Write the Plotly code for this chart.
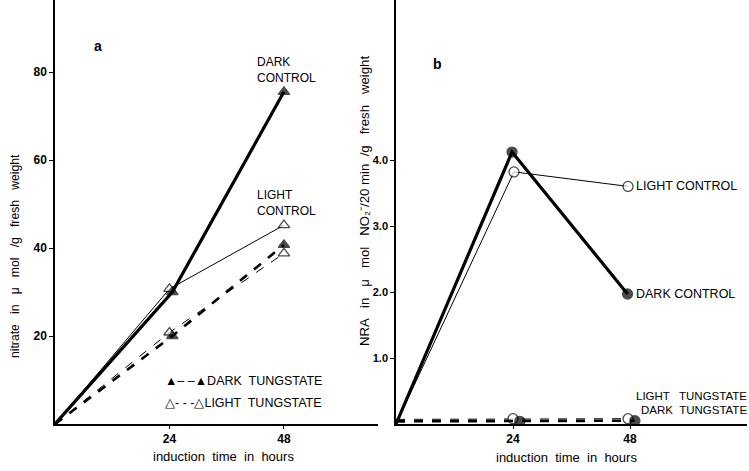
import plotly.graph_objects as go

# ---- data ----
# panel a: nitrate (µmol / g fresh weight)
a_dark_control_x = [0, 24.6, 48]
a_dark_control = [0, 30, 75.5]
a_light_control_x = [0, 24, 48]
a_light_control = [0, 30.7, 45.2]
a_dark_tung_x = [0, 24.6, 48]
a_dark_tung = [0, 20, 40.7]
a_light_tung_x = [0, 24, 48]
a_light_tung = [0, 20.8, 38.8]
# panel b: NRA
b_dark_control_x = [0, 23.8, 47.5]
b_dark_control = [0, 4.12, 1.97]
b_light_control_x = [0, 24.2, 47.6]
b_light_control = [0, 3.82, 3.6]
b_light_tung_x = [0, 24, 47.6]
b_light_tung = [0.07, 0.08, 0.08]
b_dark_tung_x = [0, 25.4, 49]
b_dark_tung = [0.04, 0.04, 0.05]

x_ticks = [24, 48]
ya_ticks = [20, 40, 60, 80]
yb_ticks = [1.0, 2.0, 3.0, 4.0]

FONT = "Liberation Sans, Arial, sans-serif"
W, H = 749, 471

fig = go.Figure()

def line(x, y, width, dash, symbol, filled, xa, ya, msize=10):
    fig.add_trace(go.Scatter(
        x=x, y=y, mode="lines+markers", xaxis=xa, yaxis=ya,
        line=dict(color="black", width=width, dash=dash),
        marker=dict(symbol=symbol, size=[0] + [msize] * (len(x) - 1),
                    color="black" if filled else "white",
                    line=dict(color="black", width=1.3)),
        showlegend=False, hoverinfo="skip"))

# panel a
line(a_light_tung_x, a_light_tung, 1, "dash", "triangle-up", False, "x", "y")
line(a_dark_tung_x, a_dark_tung, 2.6, "dash", "triangle-up", True, "x", "y")
line(a_light_control_x, a_light_control, 1, "solid", "triangle-up", False, "x", "y")
line(a_dark_control_x, a_dark_control, 3.2, "solid", "triangle-up", True, "x", "y")
# panel b
line(b_light_tung_x, b_light_tung, 1, "dash", "circle", False, "x2", "y2")
line(b_dark_tung_x, b_dark_tung, 2.6, "dash", "circle", True, "x2", "y2")
line(b_light_control_x, b_light_control, 1, "solid", "circle", False, "x2", "y2")
line(b_dark_control_x, b_dark_control, 3.2, "solid", "circle", True, "x2", "y2")

# geometry
ax0, ax1 = 55, 378
bx0, bx1 = 396, 747
y0px = 424
xa_range = [0, (ax1 - ax0) / 4.77]
xb_range = [0, (bx1 - bx0) / 4.875]
ya_range = [0, y0px / 4.4]
yb_range = [0, y0px / 66.0]

tickf = dict(family=FONT, size=12, color="black", weight="bold")
common_x = dict(showline=True, linecolor="black", linewidth=1.5, ticks="outside", ticklen=3,
                tickcolor="black", tickvals=x_ticks, tickfont=tickf,
                showgrid=False, zeroline=False, automargin=False)
fig.update_layout(
    width=W, height=H, margin=dict(l=0, r=0, t=0, b=0),
    paper_bgcolor="white", plot_bgcolor="white",
    xaxis=dict(domain=[ax0 / W, ax1 / W], range=xa_range, anchor="y", **common_x),
    xaxis2=dict(domain=[bx0 / W, bx1 / W], range=xb_range, anchor="y2", **common_x),
    yaxis=dict(domain=[(H - y0px) / H, 1], range=ya_range, anchor="x", showline=True, linecolor="black",
               linewidth=1.5, ticks="outside", ticklen=4, tickcolor="black", tickvals=ya_ticks,
               tickfont=tickf, showgrid=False, zeroline=False, automargin=False),
    yaxis2=dict(domain=[(H - y0px) / H, 1], range=yb_range, anchor="x2", showline=True, linecolor="black",
                linewidth=1.5, ticks="outside", ticklen=4, tickcolor="black", tickvals=yb_ticks,
                tickformat=".1f", tickfont=dict(family=FONT, size=11, color="black", weight="bold"),
                showgrid=False, zeroline=False, automargin=False),
)

tf = dict(family=FONT, size=12.5, color="black")
tf2 = dict(family=FONT, size=12, color="black")
tf3 = dict(family=FONT, size=11.5, color="black")
tt = dict(family=FONT, size=13, color="black")
ann = [
    dict(text="<b>a</b>", x=9, y=86, xref="x", yref="y", font=dict(family=FONT, size=14, color="black")),
    dict(text="<b>b</b>", x=8.5, y=5.45, xref="x2", yref="y2", font=dict(family=FONT, size=14, color="black")),
    dict(text="DARK<br>CONTROL", x=48.5, y=80.5, xref="x", yref="y", font=tf2, align="left"),
    dict(text="LIGHT<br>CONTROL", x=48.5, y=50.2, xref="x", yref="y", font=tf2, align="left"),
    dict(text="▲– –▲DARK  TUNGSTATE", x=22.6, y=9.8, xref="x", yref="y", font=tf, xanchor="left"),
    dict(text="△- - -△LIGHT  TUNGSTATE", x=22.6, y=4.7, xref="x", yref="y", font=tf, xanchor="left"),
    dict(text="LIGHT CONTROL", x=48.8, y=3.6, xref="x2", yref="y2", font=tf, xanchor="left"),
    dict(text="DARK CONTROL", x=48.8, y=1.97, xref="x2", yref="y2", font=tf, xanchor="left"),
    dict(text="LIGHT   TUNGSTATE", x=748 / W, y=1 - 396 / H, xref="paper", yref="paper", font=tf3,
         xanchor="right", yanchor="middle", borderpad=0),
    dict(text="DARK  TUNGSTATE", x=748 / W, y=1 - 410 / H, xref="paper", yref="paper", font=tf3,
         xanchor="right", yanchor="middle", borderpad=0),
    dict(text="induction  time  in  hours", x=223 / W, y=1 - 456 / H, xref="paper", yref="paper",
         xanchor="center", yanchor="middle", font=tt),
    dict(text="induction  time  in  hours", x=566 / W, y=1 - 457 / H, xref="paper", yref="paper",
         xanchor="center", yanchor="middle", font=tt),
    dict(text="nitrate   in   μ   mol   /g   fresh   weight", x=15 / W, y=1 - 256 / H, xref="paper",
         yref="paper", xanchor="center", yanchor="middle", textangle=-90,
         font=dict(family=FONT, size=12.2, color="black")),
    dict(text="NRA   in   μ   mol   NO₂⁻/20 min  /g   fresh   weight", x=364 / W, y=1 - 201 / H,
         xref="paper", yref="paper", xanchor="center", yanchor="middle", textangle=-90,
         font=dict(family=FONT, size=13.2, color="black")),
]
for a in ann:
    a.setdefault("showarrow", False)
fig.update_layout(annotations=ann)

fig.write_html("out.html", config={"displayModeBar": False},
               post_script="document.body.style.margin='0';")
